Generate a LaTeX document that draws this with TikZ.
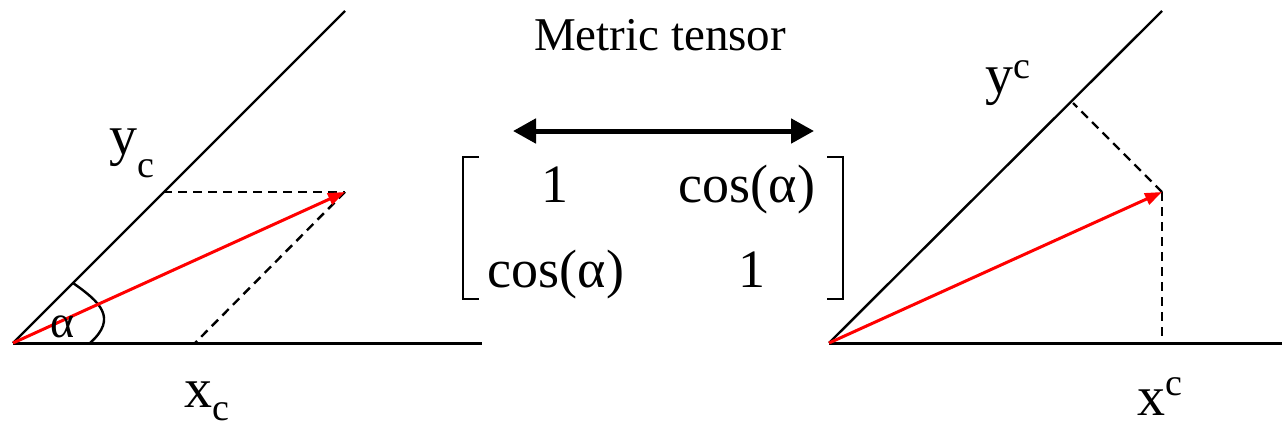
\documentclass[tikz,border=0pt]{standalone}
\usepackage{fontspec}
\setmainfont{Liberation Serif}
\usetikzlibrary{arrows.meta}
\newcommand{\lblfont}{\fontsize{56}{60}\selectfont}
\newcommand{\idxfont}{\fontsize{38}{40}\selectfont}
\newcommand{\matfont}{\fontsize{54}{58}\selectfont}
\begin{document}
\begin{tikzpicture}[x=1pt,y=-1pt,
  axis/.style={line width=2.4pt,black},
  baseaxis/.style={line width=3pt,black},
  proj/.style={line width=2.4pt,black,dash pattern=on 9pt off 6pt},
  vec/.style={line width=3pt,red,-{Triangle[length=17pt,width=12pt]}},
  lbl/.style={inner sep=0pt,anchor=base west,font=\lblfont},
  entry/.style={inner sep=0pt,anchor=base,font=\matfont},
  brk/.style={line width=2.8pt,black}]
\useasboundingbox (0,0) rectangle (1282,429);

% ---------- left diagram (covariant) ----------
\coordinate (O1) at (13,343);
\coordinate (H1) at (482,343);
\coordinate (D1) at (345,11);
\coordinate (P1) at (345,192);
\coordinate (Y1) at (163,192);
\coordinate (X1) at (195,343);
\coordinate (A1s) at (73,283);
\coordinate (A1e) at (90,343);
\draw[baseaxis] (O1) -- (H1);
\draw[axis] (O1) -- (D1);
\draw[proj] (Y1) -- (P1);
\draw[proj] (P1) -- (X1);
\draw[line width=2.4pt] (A1s) .. controls (100,302) and (118,318) .. (A1e);
\draw[vec] (O1) -- (P1);
\node[inner sep=0pt,anchor=base,font=\fontsize{46}{50}\selectfont] (alpha) at (63,337) {α};
\node[lbl] (yc) at (109,154) {y\raisebox{-23pt}{\idxfont c}};
\node[lbl] (xc) at (184,407) {x\raisebox{-13pt}{\idxfont c}};

% ---------- middle: metric tensor ----------
\node[inner sep=0pt,anchor=base,font=\fontsize{47}{50}\selectfont] (title) at (660,50) {Metric tensor};
\coordinate (AL) at (513,131);
\coordinate (AR) at (814,131);
\draw[line width=5pt,{Triangle[length=23pt,width=24pt]}-{Triangle[length=23pt,width=24pt]}] (AL) -- (AR);
\draw[brk] (479,157) -- (463,157) -- (463,299) -- (479,299);
\draw[brk] (827,157) -- (843,157) -- (843,299) -- (827,299);
\node[entry] (g11) at (555,202) {1};
\node[entry] (g12) at (747,202) {cos(α)};
\node[entry] (g21) at (556,287) {cos(α)};
\node[entry] (g22) at (752,287) {1};

% ---------- right diagram (contravariant) ----------
\coordinate (O2) at (829,343);
\coordinate (H2) at (1282,343);
\coordinate (D2) at (1162,11);
\coordinate (P2) at (1162,192);
\coordinate (X2) at (1162,343);
\coordinate (Y2) at (1073,103);
\draw[baseaxis] (O2) -- (H2);
\draw[axis] (O2) -- (D2);
\draw[proj] (P2) -- (X2);
\draw[proj] (P2) -- (Y2);
\draw[vec] (O2) -- (P2);
\node[lbl] (yup) at (985,93) {y\raisebox{15pt}{\idxfont c}};
\node[lbl] (xup) at (1137,415) {x\raisebox{20pt}{\idxfont c}};
\end{tikzpicture}
\end{document}
